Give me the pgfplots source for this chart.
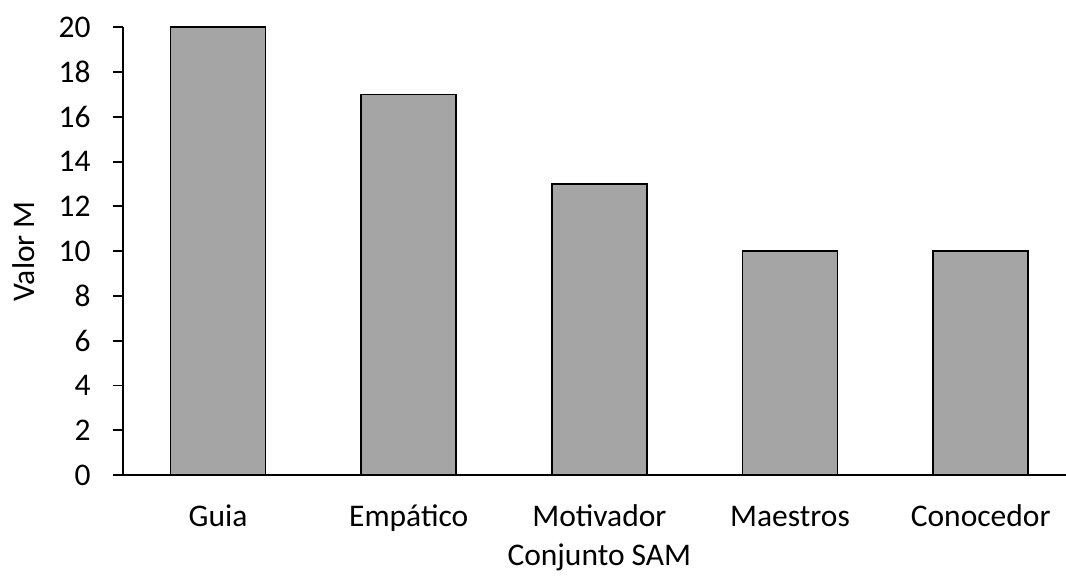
\documentclass[border=0pt]{standalone}
\usepackage{fontspec}
\setmainfont{Carlito}
\usepackage{pgfplots}
\pgfplotsset{compat=1.18}
\definecolor{barfill}{HTML}{A5A5A5}
\newcommand\chartfont{\fontsize{31.5}{36}\selectfont}
\begin{document}
\begin{tikzpicture}
\begin{axis}[
  width=953.25pt, height=447.7pt, scale only axis,
  xmin=-0.5, xmax=4.5, ymin=0, ymax=20,
  axis x line*=bottom, axis y line*=left,
  axis line style={line width=1.8pt, black},
  xtick={0,1,2,3,4},
  xticklabels={Guia,Empático,Motivador,Maestros,Conocedor},
  ytick={0,2,...,20},
  x tick style={draw=none},
  y tick style={line width=1.8pt, black},
  tick align=outside, major tick length=10pt,
  /pgf/number format/assume math mode=true,
  tick label style={font=\chartfont, inner sep=0pt},
  yticklabel style={anchor=east, xshift=-22pt},
  xticklabel style={anchor=base, yshift=-42pt},
  label style={font=\chartfont, inner sep=0pt},
  xlabel={Conjunto SAM},
  ylabel={Valor M},
  xlabel style={at={(axis description cs:0.5,0)}, anchor=base, yshift=-91pt},
  ylabel style={at={(axis description cs:0,0.5)}, anchor=base, yshift=88pt},
  ybar, bar width=95pt,
  clip=false,
]
\addplot[fill=barfill, draw=black, line width=1.8pt] coordinates {
  (0,20) (1,17) (2,13) (3,10) (4,10)
};
\coordinate (o) at (rel axis cs:0,0);
\coordinate (t) at (rel axis cs:0,1);
\end{axis}
\pgfresetboundingbox
\path ([xshift=-122.75pt,yshift=-105pt]o) rectangle ([xshift=943.25pt,yshift=27.3pt]t);
\end{tikzpicture}
\end{document}
